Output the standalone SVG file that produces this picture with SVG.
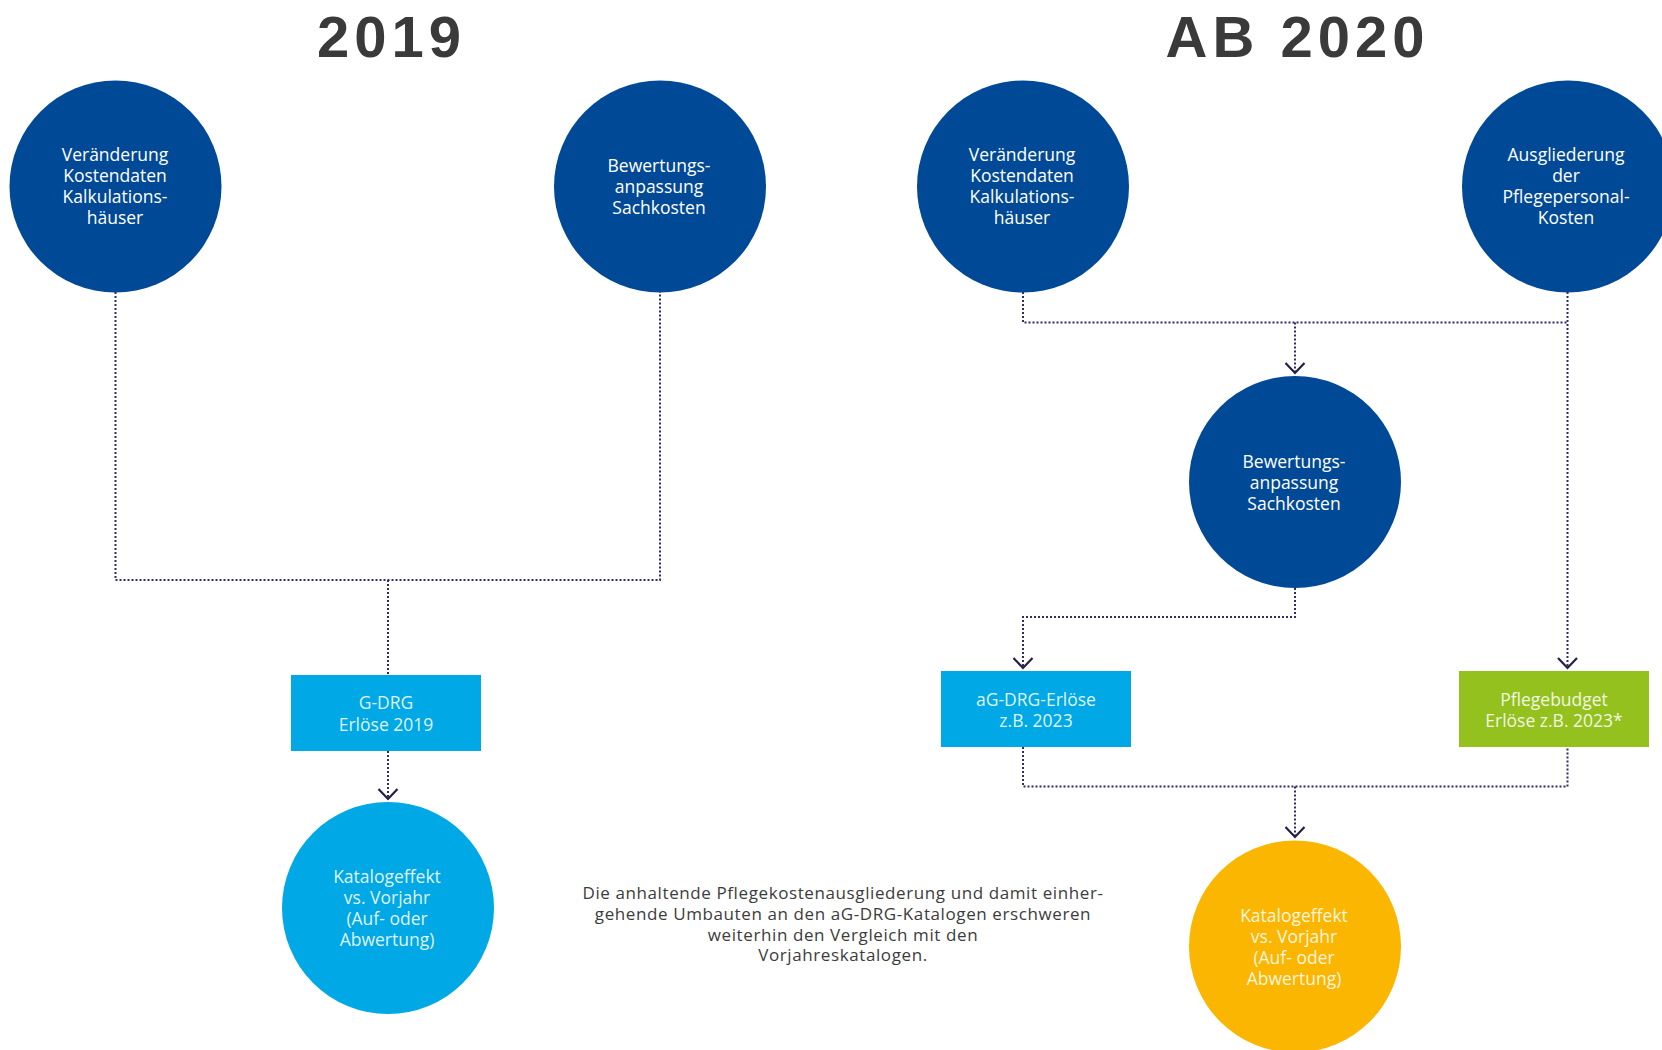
<svg xmlns="http://www.w3.org/2000/svg" width="1662" height="1050" viewBox="0 0 1662 1050">
  <style>
    .title { font-family: "Liberation Sans", Arial, sans-serif; font-weight: bold; font-size: 58px; fill: #3a3a3a; letter-spacing: 5px; text-anchor: middle; }
    .lbl { font-family: "Open Sans", "Noto Sans", sans-serif; font-size: 17.5px; text-anchor: middle; fill: #ffffff; }
    .soft { fill-opacity: 0.88; }
    .para { font-family: "Open Sans", "Noto Sans", sans-serif; font-size: 17px; letter-spacing: 0.6px; text-anchor: middle; fill: #3c3c3c; }
    .blue { fill: #004996; }
    .cyan { fill: #00a9e6; }
    .green { fill: #95c11f; }
    .orange { fill: #fab600; }
    .conn { fill: none; stroke: #2f2c66; stroke-width: 2; stroke-dasharray: 2 2; }
    .arr { fill: none; stroke: #231f48; stroke-width: 2.2; stroke-linejoin: miter; }
  </style>
  <defs>
    <marker id="chev" markerUnits="userSpaceOnUse" markerWidth="24" markerHeight="24" viewBox="-12 -12 24 24" refX="0" refY="0" orient="auto" overflow="visible">
      <path class="arr" d="M-10,-9.5 L0,0 L-10,9.5"/>
    </marker>
  </defs>
  <rect width="1662" height="1050" fill="#ffffff"/>

  <text class="title" x="391.5" y="57">2019</text>
  <text class="title" x="1297.5" y="57">AB 2020</text>

  <g id="connectors">
    <path class="conn" d="M115.5,292 V580 H660 V292"/>
    <path class="conn" d="M388,580 V675"/>
    <path class="conn" d="M388,751 V799" marker-end="url(#chev)"/>
    <path class="conn" d="M1023,292 V322.5 H1567.5"/>
    <path class="conn" d="M1567.5,292 V668" marker-end="url(#chev)"/>
    <path class="conn" d="M1295,322.5 V373" marker-end="url(#chev)"/>
    <path class="conn" d="M1295,588 V617 H1023 V668" marker-end="url(#chev)"/>
    <path class="conn" d="M1023,747 V786.5 H1567.5 V747"/>
    <path class="conn" d="M1295,786.5 V837" marker-end="url(#chev)"/>
  </g>

  <g id="n2019-kosten">
    <circle class="blue" cx="115.5" cy="186.5" r="106"/>
    <text class="lbl"><tspan x="115" y="161">Veränderung</tspan><tspan x="115" y="182">Kostendaten</tspan><tspan x="115" y="203">Kalkulations-</tspan><tspan x="115" y="224">häuser</tspan></text>
  </g>
  <g id="n2019-bewertung">
    <circle class="blue" cx="660" cy="186.5" r="106"/>
    <text class="lbl"><tspan x="659" y="171.5">Bewertungs-</tspan><tspan x="659" y="192.5">anpassung</tspan><tspan x="659" y="213.5">Sachkosten</tspan></text>
  </g>
  <g id="n2019-gdrg">
    <rect class="cyan" x="291" y="675" width="190" height="76"/>
    <text class="lbl soft"><tspan x="386" y="709">G-DRG</tspan><tspan x="386" y="730.5">Erlöse 2019</tspan></text>
  </g>
  <g id="n2019-katalog">
    <circle class="cyan" cx="388" cy="908" r="106"/>
    <text class="lbl soft"><tspan x="387" y="883">Katalogeffekt</tspan><tspan x="387" y="904">vs. Vorjahr</tspan><tspan x="387" y="925">(Auf- oder</tspan><tspan x="387" y="946">Abwertung)</tspan></text>
  </g>

  <g id="n2020-kosten">
    <circle class="blue" cx="1023" cy="186.5" r="106"/>
    <text class="lbl"><tspan x="1022" y="161">Veränderung</tspan><tspan x="1022" y="182">Kostendaten</tspan><tspan x="1022" y="203">Kalkulations-</tspan><tspan x="1022" y="224">häuser</tspan></text>
  </g>
  <g id="n2020-ausgliederung">
    <circle class="blue" cx="1568" cy="186.5" r="106"/>
    <text class="lbl"><tspan x="1566" y="161">Ausgliederung</tspan><tspan x="1566" y="182">der</tspan><tspan x="1566" y="203">Pflegepersonal-</tspan><tspan x="1566" y="224">Kosten</tspan></text>
  </g>
  <g id="n2020-bewertung">
    <circle class="blue" cx="1295" cy="482" r="106"/>
    <text class="lbl"><tspan x="1294" y="468">Bewertungs-</tspan><tspan x="1294" y="489">anpassung</tspan><tspan x="1294" y="510">Sachkosten</tspan></text>
  </g>
  <g id="n2020-agdrg">
    <rect class="cyan" x="941" y="671" width="190" height="76"/>
    <text class="lbl soft"><tspan x="1036" y="705.5">aG-DRG-Erlöse</tspan><tspan x="1036" y="726.5">z.B. 2023</tspan></text>
  </g>
  <g id="n2020-pflegebudget">
    <rect class="green" x="1459" y="671" width="190" height="76"/>
    <text class="lbl soft"><tspan x="1554" y="706">Pflegebudget</tspan><tspan x="1554" y="727">Erlöse z.B. 2023*</tspan></text>
  </g>
  <g id="n2020-katalog">
    <circle class="orange" cx="1295" cy="946.5" r="106"/>
    <text class="lbl soft"><tspan x="1294" y="921.5">Katalogeffekt</tspan><tspan x="1294" y="942.5">vs. Vorjahr</tspan><tspan x="1294" y="963.5">(Auf- oder</tspan><tspan x="1294" y="984.5">Abwertung)</tspan></text>
  </g>

  <g id="note">
    <text class="para"><tspan x="843" y="899">Die anhaltende Pflegekostenausgliederung und damit einher-</tspan><tspan x="843" y="920">gehende Umbauten an den aG-DRG-Katalogen erschweren</tspan><tspan x="843" y="940.5">weiterhin den Vergleich mit den</tspan><tspan x="843" y="961">Vorjahreskatalogen.</tspan></text>
  </g>
</svg>
